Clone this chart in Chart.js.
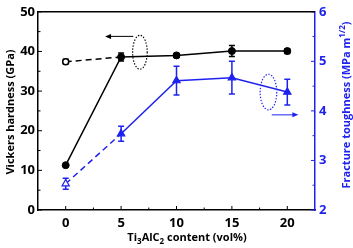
<!DOCTYPE html>
<html>
<head>
<meta charset="utf-8">
<script src="https://cdn.jsdelivr.net/npm/chart.js@4"></script>
<style>
  html, body { margin: 0; padding: 0; background: #fff; }
  canvas { display: block; }
</style>
</head>
<body>
<canvas id="chart" width="353" height="248"></canvas>
<script>
// Ti3AlC2 content (vol%)
const contents = [0, 5, 10, 15, 20];
// Vickers hardness (GPa), filled circles
const hardness = [11.3, 38.6, 39.0, 40.1, 40.1];
const hardnessErr = [0, 1.0, 0.5, 1.4, 0.6];
// dashed branch with open circle at 0 vol%
const hardnessRefX = [0, 5];
const hardnessRef = [37.4, 38.6];
const hardnessRefErr = [0.6, 0];
// Fracture toughness (MPa m^1/2), triangles (open at 0 vol%)
const toughness = [2.53, 3.54, 4.61, 4.67, 4.38];
const toughnessErr = [0.11, 0.15, 0.29, 0.33, 0.26];

const xTicks = [0, 5, 10, 15, 20];
const xMinor = [2.5, 7.5, 12.5, 17.5];
const leftTicks = [0, 10, 20, 30, 40, 50];
const leftMinor = [5, 15, 25, 35, 45];
const rightTicks = [2, 3, 4, 5, 6];
const rightMinor = [2.5, 3.5, 4.5, 5.5];

const BLUE = "#1f22ee";
const FONT = "'Open Sans', 'DejaVu Sans', sans-serif";

function tickList(vals) {
  return vals.map((v) => ({ value: v }));
}

function drawErrors(ctx, xs, ys, errs, sx, sy, color) {
  ctx.save();
  ctx.strokeStyle = color;
  ctx.lineWidth = 1.5;
  xs.forEach((x, i) => {
    if (!errs[i]) return;
    const px = sx.getPixelForValue(x);
    const top = sy.getPixelForValue(ys[i] + errs[i]);
    const bot = sy.getPixelForValue(ys[i] - errs[i]);
    ctx.beginPath();
    ctx.moveTo(px, top);
    ctx.lineTo(px, bot);
    ctx.moveTo(px - 3, top);
    ctx.lineTo(px + 3, top);
    ctx.moveTo(px - 3, bot);
    ctx.lineTo(px + 3, bot);
    ctx.stroke();
  });
  ctx.restore();
}

function drawArrow(ctx, x1, x2, y, color) {
  // arrow from x1 to x2 (head at x2)
  const dir = Math.sign(x2 - x1);
  ctx.save();
  ctx.strokeStyle = color;
  ctx.fillStyle = color;
  ctx.lineWidth = 1;
  ctx.beginPath();
  ctx.moveTo(x1, y);
  ctx.lineTo(x2 - dir * 5, y);
  ctx.stroke();
  ctx.beginPath();
  ctx.moveTo(x2, y);
  ctx.lineTo(x2 - dir * 6, y - 2.5);
  ctx.lineTo(x2 - dir * 6, y + 2.5);
  ctx.closePath();
  ctx.fill();
  ctx.restore();
}

function drawEllipse(ctx, cx, cy, rx, ry, color) {
  ctx.save();
  ctx.strokeStyle = color;
  ctx.lineWidth = 1.2;
  ctx.setLineDash([1.4, 1.6]);
  ctx.beginPath();
  ctx.ellipse(cx, cy, rx, ry, 0, 0, Math.PI * 2);
  ctx.stroke();
  ctx.restore();
}

// text pieces: [text, size, dy]
function drawPieces(ctx, pieces, x, y, align) {
  let total = 0;
  pieces.forEach((p) => {
    ctx.font = `bold ${p[1]}px ${FONT}`;
    total += ctx.measureText(p[0]).width;
  });
  let cur = align === "center" ? x - total / 2 : x;
  pieces.forEach((p) => {
    ctx.font = `bold ${p[1]}px ${FONT}`;
    ctx.fillText(p[0], cur, y + p[2]);
    cur += ctx.measureText(p[0]).width;
  });
}

const decorations = {
  id: "decorations",
  beforeDatasetsDraw(chart) {
    const { ctx, chartArea: a, scales } = chart;
    const sx = scales.x, sy = scales.y, sy1 = scales.y1;
    ctx.save();
    ctx.lineWidth = 1;
    // inward tick marks
    ctx.strokeStyle = "#000";
    ctx.beginPath();
    xTicks.forEach((v) => {
      const p = sx.getPixelForValue(v);
      ctx.moveTo(p, a.bottom);
      ctx.lineTo(p, a.bottom - 4);
    });
    xMinor.forEach((v) => {
      const p = sx.getPixelForValue(v);
      ctx.moveTo(p, a.bottom);
      ctx.lineTo(p, a.bottom - 2.5);
    });
    leftTicks.forEach((v) => {
      const p = sy.getPixelForValue(v);
      ctx.moveTo(a.left, p);
      ctx.lineTo(a.left + 4, p);
    });
    leftMinor.forEach((v) => {
      const p = sy.getPixelForValue(v);
      ctx.moveTo(a.left, p);
      ctx.lineTo(a.left + 2.5, p);
    });
    ctx.stroke();
    ctx.strokeStyle = BLUE;
    ctx.beginPath();
    rightTicks.forEach((v) => {
      const p = sy1.getPixelForValue(v);
      ctx.moveTo(a.right, p);
      ctx.lineTo(a.right - 4, p);
    });
    rightMinor.forEach((v) => {
      const p = sy1.getPixelForValue(v);
      ctx.moveTo(a.right, p);
      ctx.lineTo(a.right - 2.5, p);
    });
    ctx.stroke();
    // top frame
    ctx.strokeStyle = "#000";
    ctx.lineWidth = 1.5;
    ctx.beginPath();
    ctx.moveTo(a.left, a.top);
    ctx.lineTo(a.right, a.top);
    ctx.stroke();
    ctx.restore();

    drawErrors(ctx, contents, hardness, hardnessErr, sx, sy, "#000");
    drawErrors(ctx, hardnessRefX, hardnessRef, hardnessRefErr, sx, sy, "#000");
    drawErrors(ctx, contents, toughness, toughnessErr, sx, sy1, BLUE);

    // arrows and dotted ellipses that tie the curves to their axes
    drawArrow(ctx, sx.getPixelForValue(6.1), sx.getPixelForValue(3.55), sy.getPixelForValue(43.8), "#000");
    drawEllipse(ctx, sx.getPixelForValue(6.7), sy.getPixelForValue(39.8), 7.3, 17, "#000");
    drawEllipse(ctx, sx.getPixelForValue(18.3), sy1.getPixelForValue(4.38), 8.3, 17.8, BLUE);
    drawArrow(ctx, sx.getPixelForValue(18.6), sx.getPixelForValue(21.0), sy1.getPixelForValue(3.92), BLUE);
  },
  afterDraw(chart) {
    const { ctx } = chart;
    ctx.save();
    ctx.textBaseline = "alphabetic";
    ctx.textAlign = "left";
    // x title
    ctx.fillStyle = "#000";
    drawPieces(ctx, [["Ti", 11, 0], ["3", 8, 3], ["AlC", 11, 0], ["2", 8, 3], [" content (vol%)", 11, 0]],
      187, 241, "center");
    // left title
    ctx.save();
    ctx.translate(13.5, 112);
    ctx.rotate(-Math.PI / 2);
    drawPieces(ctx, [["Vickers hardness (GPa)", 11, 0]], 0, 0, "center");
    ctx.restore();
    // right title
    ctx.save();
    ctx.fillStyle = BLUE;
    ctx.translate(349.5, 105);
    ctx.rotate(-Math.PI / 2);
    drawPieces(ctx, [["Fracture toughness (MPa m", 11, 0], ["1/2", 8, -5], [")", 11, 0]], 0, 0, "center");
    ctx.restore();
    ctx.restore();
  },
};

const ctx = document.getElementById("chart").getContext("2d");

const chart = new Chart(ctx, {
  type: "line",
  data: {
    datasets: [
      {
        label: "Hardness",
        data: contents.map((x, i) => ({ x, y: hardness[i] })),
        yAxisID: "y",
        borderColor: "#000",
        backgroundColor: "#000",
        borderWidth: 1.5,
        pointRadius: 3.5,
        pointBorderWidth: 1,
      },
      {
        label: "Hardness (ref)",
        data: hardnessRefX.map((x, i) => ({ x, y: hardnessRef[i] })),
        yAxisID: "y",
        borderColor: "#000",
        borderWidth: 1.5,
        borderDash: [6, 4],
        pointRadius: [3, 0],
        pointBackgroundColor: "#fff",
        pointBorderColor: "#000",
        pointBorderWidth: 1.5,
      },
      {
        label: "Toughness",
        data: contents.map((x, i) => ({ x, y: toughness[i] })),
        yAxisID: "y1",
        borderColor: BLUE,
        borderWidth: 1.5,
        pointStyle: "triangle",
        pointRadius: 4.2,
        pointBackgroundColor: contents.map((x, i) => (i === 0 ? "#fff" : BLUE)),
        pointBorderColor: BLUE,
        pointBorderWidth: 1.2,
        segment: {
          borderDash: (c) => (c.p0DataIndex === 0 ? [6, 4] : undefined),
        },
      },
    ],
  },
  options: {
    responsive: false,
    animation: false,
    devicePixelRatio: 1,
    layout: { padding: { top: 7, left: 0, right: 0, bottom: 0 } },
    plugins: { legend: { display: false }, tooltip: { enabled: false } },
    scales: {
      x: {
        type: "linear",
        min: -2.5,
        max: 22.5,
        afterBuildTicks: (s) => { s.ticks = tickList(xTicks); },
        afterFit: (s) => { s.height = 38; },
        grid: { display: false, drawTicks: false },
        border: { display: true, color: "#000", width: 1.5 },
        ticks: { color: "#000", padding: 5, font: { family: FONT, size: 13, weight: "bold" } },
      },
      y: {
        position: "left",
        min: 0,
        max: 50,
        afterBuildTicks: (s) => { s.ticks = tickList(leftTicks); },
        afterFit: (s) => { s.width = 38; },
        grid: { display: false, drawTicks: false },
        border: { display: true, color: "#000", width: 1.5 },
        ticks: { color: "#000", padding: 3, font: { family: FONT, size: 13, weight: "bold" } },
      },
      y1: {
        position: "right",
        min: 2,
        max: 6,
        afterBuildTicks: (s) => { s.ticks = tickList(rightTicks); },
        afterFit: (s) => { s.width = 38; },
        grid: { display: false, drawTicks: false },
        border: { display: true, color: BLUE, width: 1.5 },
        ticks: { color: BLUE, padding: 4, font: { family: FONT, size: 13, weight: "bold" } },
      },
    },
  },
  plugins: [decorations],
});
</script>
</body>
</html>
